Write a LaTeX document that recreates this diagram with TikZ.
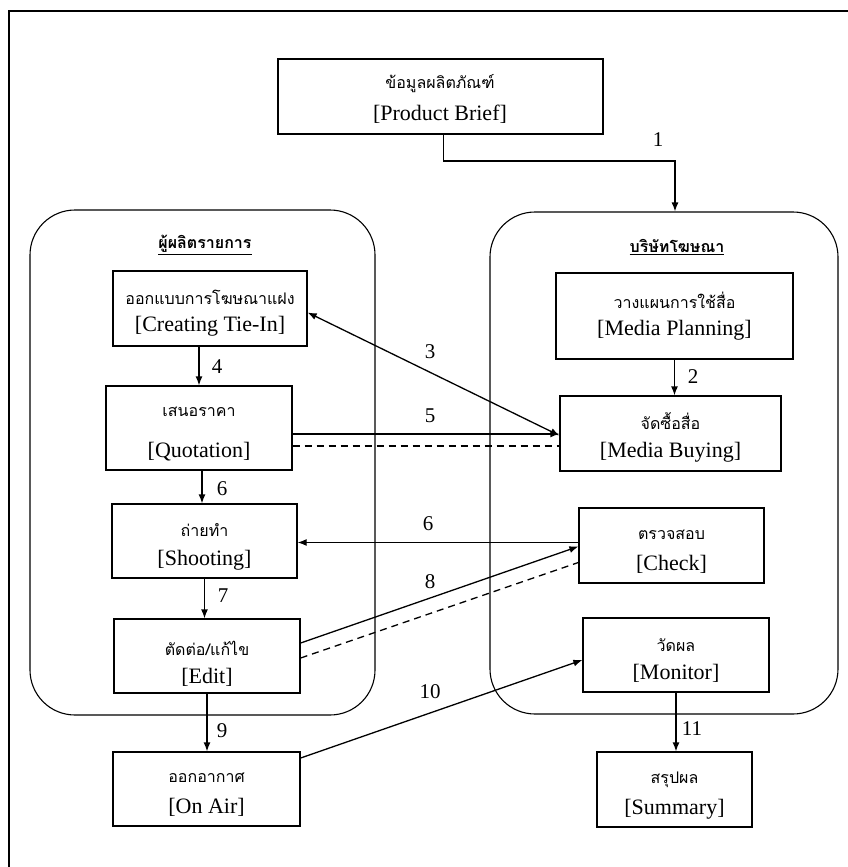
\documentclass[tikz,border=0pt]{standalone}
\usepackage{fontspec}
\setmainfont{Liberation Serif}
\newfontfamily\thaifont[Script=Thai]{Loma}
\usetikzlibrary{arrows.meta,calc}
\tikzset{
  box/.style={draw, line width=1.3pt, rectangle, inner sep=0pt},
  grp/.style={draw, line width=1.1pt, rectangle, rounded corners=45pt, inner sep=0pt},
  th/.style={font=\thaifont\fontsize{16}{18}\selectfont, inner sep=0pt},
  en/.style={font=\fontsize{22}{25}\selectfont, inner sep=0pt},
  num/.style={font=\fontsize{21}{23}\selectfont, inner sep=0pt},
  gl/.style={font=\thaifont\bfseries\fontsize{16}{18}\selectfont, inner sep=0pt},
  arr/.style={line width=1.3pt, -{Latex[length=9pt,width=7pt]}},
  arrtwo/.style={line width=1.3pt, {Latex[length=9pt,width=7pt]}-{Latex[length=9pt,width=7pt]}},
  dsh/.style={line width=1.3pt, dashed, dash pattern=on 7pt off 5pt}
}
\begin{document}
\begin{tikzpicture}[x=1pt,y=-1pt]
\useasboundingbox (0,0) rectangle (848,867);
\clip (0,0) rectangle (848,867);
\fill[white] (0,0) rectangle (848,867);
% outer frame
\draw[line width=1.4pt] (9,11) rectangle (880,900);
% groups
\node[grp, minimum width=345pt, minimum height=505pt] (lgroup) at (202.5,462.5) {};
\node[grp, minimum width=348pt, minimum height=502pt] (rgroup) at (664,463) {};
\node[gl] (lgl) at (205,245) {\underline{ผู้ผลิตรายการ}};
\node[gl] (rgl) at (677,247) {\underline{บริษัทโฆษณา}};
% boxes
\node[box, minimum width=325pt, minimum height=75pt] (brief) at (440.5,96.5) {};
\node[box, minimum width=194pt, minimum height=75pt] (tiein) at (210,308.5) {};
\node[box, minimum width=186pt, minimum height=84pt] (quote) at (199,428) {};
\node[box, minimum width=185pt, minimum height=74pt] (shoot) at (204.5,541) {};
\node[box, minimum width=186pt, minimum height=74pt] (edit) at (207,656) {};
\node[box, minimum width=187pt, minimum height=74pt] (onair) at (206.5,789) {};
\node[box, minimum width=237pt, minimum height=86pt] (plan) at (674.5,316) {};
\node[box, minimum width=221pt, minimum height=75pt] (buy) at (670.5,433.5) {};
\node[box, minimum width=185pt, minimum height=75pt] (check) at (671.5,545.5) {};
\node[box, minimum width=186pt, minimum height=74pt] (monitor) at (676,655) {};
\node[box, minimum width=155pt, minimum height=75pt] (summary) at (674.5,789.5) {};
% texts
\node[th] (briefth) at (440,84) {ข้อมูลผลิตภัณฑ์};
\node[en] (briefen) at (440,114) {[Product Brief]};
\node[th] (tieinth) at (210,297) {ออกแบบการโฆษณาแฝง};
\node[en] (tieinen) at (210,326) {[Creating Tie-In]};
\node[th] (quoteth) at (199,412) {เสนอราคา};
\node[en] (quoteen) at (199,452) {[Quotation]};
\node[th] (shootth) at (204.5,530) {ถ่ายทำ};
\node[en] (shooten) at (204.5,560) {[Shooting]};
\node[th] (editth) at (207,648) {ตัดต่อ/แก้ไข};
\node[en] (editen) at (207,677) {[Edit]};
\node[th] (onairth) at (206.5,778) {ออกอากาศ};
\node[en] (onairen) at (206.5,807) {[On Air]};
\node[th] (planth) at (674.5,300) {วางแผนการใช้สื่อ};
\node[en] (planen) at (674.5,330) {[Media Planning]};
\node[th] (buyth) at (670.5,421) {จัดซื้อสื่อ};
\node[en] (buyen) at (670.5,452) {[Media Buying]};
\node[th] (checkth) at (671.5,535) {ตรวจสอบ};
\node[en] (checken) at (671.5,564) {[Check]};
\node[th] (monitorth) at (676,645) {วัดผล};
\node[en] (monitoren) at (676,673) {[Monitor]};
\node[th] (summaryth) at (674.5,780) {สรุปผล};
\node[en] (summaryen) at (674.5,809) {[Summary]};
% connectors
\coordinate (p1) at (675,161);
\draw[arr] ([xshift=3pt]brief.south) |- (p1) -- (p1 |- rgroup.north);
\draw[arr] (plan.south) -- (plan.south |- buy.north);
\draw[arr] (tiein.south -| quote.north) -- (quote.north);
\draw[arr] ([xshift=3pt]quote.south) -- ([xshift=3pt]quote.south |- shoot.north);
\draw[arr] (shoot.south) -- (shoot.south |- edit.north);
\draw[arr] (edit.south) -- (edit.south |- onair.north);
\draw[arr] (monitor.south) -- (monitor.south |- summary.north);
\draw[arrtwo] ([yshift=-4pt]tiein.east) -- ([yshift=-2pt]buy.west);
\draw[arr] ([yshift=-6pt]quote.east) -- ([yshift=-6pt]quote.east -| buy.west);
\draw[dsh] ([yshift=-18pt]quote.east) -- ([yshift=-18pt]quote.east -| buy.west);
\draw[arr] ([yshift=3pt]check.west) -- ([yshift=3pt]check.west -| shoot.east);
\draw[arr] ([yshift=13pt]edit.east) -- ([yshift=-1pt]check.west);
\draw[dsh] ([yshift=-2pt]edit.east) -- ([yshift=-17pt]check.west);
\draw[arr] ([yshift=31pt]onair.east) -- ([yshift=-5pt]monitor.west);
% numbers
\node[num] (n1) at (658,140) {1};
\node[num] (n2) at (693,377) {2};
\node[num] (n3) at (430,352) {3};
\node[num] (n4) at (217,367) {4};
\node[num] (n5) at (430,416) {5};
\node[num] (n6a) at (222,489) {6};
\node[num] (n6b) at (428,524) {6};
\node[num] (n7) at (223,596) {7};
\node[num] (n8) at (430,582) {8};
\node[num] (n9) at (222,731) {9};
\node[num] (n10) at (430,692) {10};
\node[num] (n11) at (692,729) {11};
\end{tikzpicture}
\end{document}
